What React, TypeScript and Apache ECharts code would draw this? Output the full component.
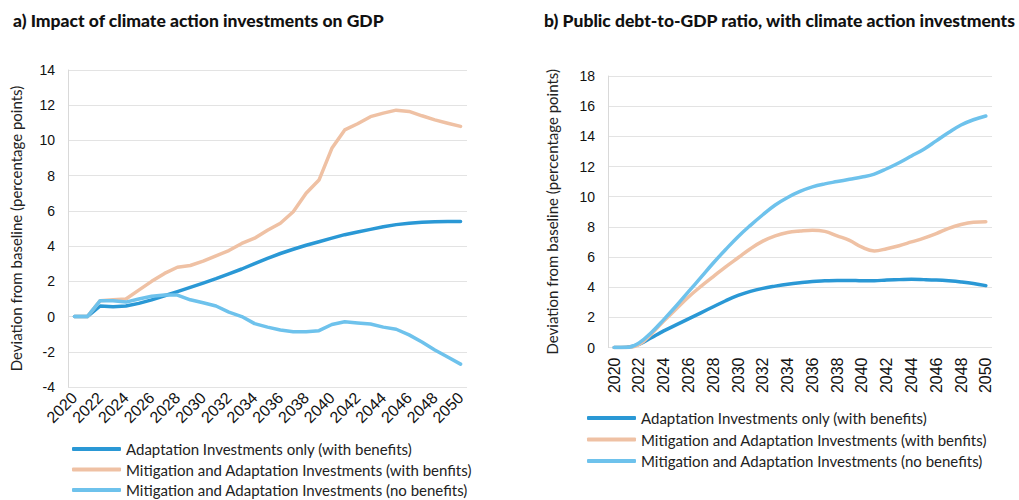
import React, { useEffect, useRef } from "react";
import * as echarts from "echarts";

const years: string[] = [];
for (let y = 2020; y <= 2050; y++) years.push(String(y));

const seriesNames = [
  "Adaptation Investments only (with benefits)",
  "Mitigation and Adaptation Investments (with benfits)",
  "Mitigation and Adaptation Investments (no benefits)",
];

// Panel a) Impact on GDP
const gdpAdaptation = [0, 0, 0.6, 0.55, 0.6, 0.75, 0.95, 1.18, 1.42, 1.66, 1.9, 2.15, 2.42, 2.7, 3.0, 3.3, 3.58, 3.82, 4.05, 4.25, 4.45, 4.65, 4.8, 4.95, 5.1, 5.22, 5.3, 5.35, 5.38, 5.4, 5.4];
const gdpMitigationBenefits = [0, 0, 0.9, 0.95, 1.0, 1.5, 2.0, 2.45, 2.8, 2.9, 3.15, 3.45, 3.75, 4.15, 4.45, 4.9, 5.3, 5.95, 7.0, 7.75, 9.55, 10.6, 10.95, 11.35, 11.55, 11.72, 11.65, 11.4, 11.17, 10.98, 10.8];
const gdpMitigationNoBenefits = [0, 0, 0.9, 0.9, 0.82, 1.0, 1.15, 1.22, 1.22, 0.95, 0.78, 0.6, 0.25, 0.0, -0.4, -0.6, -0.76, -0.86, -0.86, -0.8, -0.45, -0.3, -0.36, -0.42, -0.6, -0.72, -1.04, -1.45, -1.9, -2.3, -2.7];

// Panel b) Public debt-to-GDP
const debtAdaptation = [0, 0.02, 0.2, 0.65, 1.1, 1.5, 1.9, 2.3, 2.7, 3.1, 3.45, 3.72, 3.92, 4.07, 4.2, 4.3, 4.38, 4.42, 4.45, 4.45, 4.42, 4.42, 4.48, 4.5, 4.52, 4.5, 4.47, 4.42, 4.35, 4.25, 4.1];
const debtMitigationBenefits = [0, 0, 0.2, 0.9, 1.75, 2.55, 3.35, 4.05, 4.7, 5.35, 5.95, 6.55, 7.05, 7.4, 7.62, 7.72, 7.78, 7.7, 7.4, 7.1, 6.65, 6.4, 6.55, 6.75, 7.0, 7.25, 7.55, 7.9, 8.15, 8.3, 8.33];
const debtMitigationNoBenefits = [0, 0, 0.3, 1.0, 1.85, 2.75, 3.7, 4.65, 5.6, 6.5, 7.35, 8.1, 8.8, 9.45, 9.95, 10.35, 10.65, 10.85, 11.0, 11.15, 11.3, 11.5, 11.85, 12.25, 12.7, 13.15, 13.7, 14.25, 14.75, 15.1, 15.35];

const colors = ["#2a98d5", "#efc1a4", "#6ec2ec"];
const titleA = "a) Impact of climate action investments on GDP";
const titleB = "b) Public debt-to-GDP ratio, with climate action investments";
const yName = "Deviation from baseline (percentage points)";

const TICK_FONT = "'Liberation Sans', Arial, sans-serif";
const TEXT_FONT = "Lato, 'Noto Sans', sans-serif";

export default function App() {
  const ref = useRef<HTMLDivElement>(null);
  useEffect(() => {
    if (!ref.current) return;
    const chart = echarts.init(ref.current, undefined, { renderer: "svg" });
    const gridLine = { show: true, lineStyle: { color: "#e3e3e3", width: 1 } };
    const yAxisBase = (min: number, max: number, gridIndex: number, nameGap: number) => ({
      type: "value",
      gridIndex,
      min,
      max,
      interval: 2,
      name: yName,
      nameLocation: "middle",
      nameGap,
      nameTextStyle: { fontFamily: TEXT_FONT, fontSize: 15, color: "#222" },
      axisLine: { show: true, lineStyle: { color: "#d9d9d9", width: 1 } },
      axisTick: { show: false },
      axisLabel: { fontFamily: TICK_FONT, fontSize: 14, color: "#111", margin: 13 },
      splitLine: gridLine,
    });
    const lineSeries = (name: string, data: number[], idx: number, colorIdx: number, smooth: any) => ({
      type: "line",
      name,
      data,
      xAxisIndex: idx,
      yAxisIndex: idx,
      symbol: "none",
      smooth,
      color: colors[colorIdx],
      lineStyle: { width: 3.5, color: colors[colorIdx], cap: "round", join: "round" },
    });
    const legendBase = (left: number, top: number, gap: number) => ({
      orient: "horizontal",
      left,
      top,
      width: 10,
      padding: 0,
      itemWidth: 49,
      itemHeight: 4,
      itemGap: gap,
      icon: "roundRect",
      textStyle: { fontFamily: TEXT_FONT, fontSize: 15, color: "#222", lineHeight: 16 },
      data: seriesNames,
      selectedMode: false,
    });
    chart.setOption({
      animation: false,
      backgroundColor: "#ffffff",
      title: [
        { text: titleA, left: 13, top: 11, padding: 0, textStyle: { fontFamily: TEXT_FONT, fontWeight: 900, fontSize: 17.5, color: "#111" } },
        { text: titleB, left: 544, top: 11, padding: 0, textStyle: { fontFamily: TEXT_FONT, fontWeight: 900, fontSize: 17.5, color: "#111" } },
      ],
      legend: [legendBase(72, 441, 4.5), legendBase(587, 410, 5.5)],
      grid: [
        { left: 68, top: 70, width: 399, height: 317, containLabel: false },
        { left: 608, top: 76, width: 384, height: 271.5, containLabel: false },
      ],
      xAxis: [
        {
          type: "category",
          gridIndex: 0,
          data: years,
          boundaryGap: true,
          axisLine: { show: false, onZero: false },
          axisTick: { show: false },
          axisLabel: { interval: 1, rotate: 45, fontFamily: TICK_FONT, fontSize: 16, color: "#111", margin: 8 },
        },
        {
          type: "category",
          gridIndex: 1,
          data: years,
          boundaryGap: true,
          axisLine: { show: false, onZero: false },
          axisTick: { show: false },
          axisLabel: { interval: 1, rotate: 90, fontFamily: TICK_FONT, fontSize: 16, color: "#111", margin: 10 },
        },
      ],
      yAxis: [yAxisBase(-4, 14, 0, 45), yAxisBase(0, 18, 1, 49)],
      series: [
        lineSeries(seriesNames[0], gdpAdaptation, 0, 0, false),
        lineSeries(seriesNames[1], gdpMitigationBenefits, 0, 1, false),
        lineSeries(seriesNames[2], gdpMitigationNoBenefits, 0, 2, false),
        lineSeries(seriesNames[0], debtAdaptation, 1, 0, 0.4),
        lineSeries(seriesNames[1], debtMitigationBenefits, 1, 1, 0.4),
        lineSeries(seriesNames[2], debtMitigationNoBenefits, 1, 2, 0.4),
      ],
    });
    return () => chart.dispose();
  }, []);
  return <div ref={ref} style={{ position: "fixed", left: 0, top: 0, width: 1019, height: 500 }} />;
}
